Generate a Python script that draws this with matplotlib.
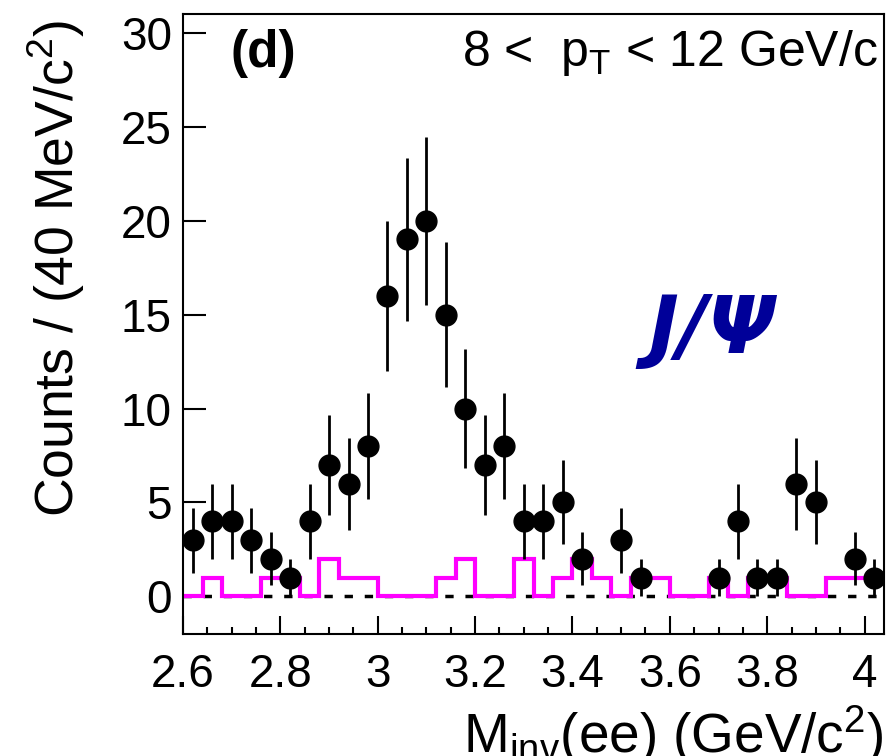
import numpy as np
import matplotlib
matplotlib.use("Agg")
import matplotlib.pyplot as plt
from matplotlib.ticker import MultipleLocator

plt.rcParams['font.family'] = ['Liberation Sans', 'DejaVu Sans']
plt.rcParams['mathtext.fontset'] = 'custom'
plt.rcParams['mathtext.rm'] = 'Liberation Sans'
plt.rcParams['mathtext.it'] = 'Liberation Sans:italic'
plt.rcParams['mathtext.bf'] = 'Liberation Sans:bold'

# 40 MeV bins from 2.60 to 4.04 GeV/c^2
bin_edges = np.round(np.arange(2.60, 4.04 + 0.001, 0.04), 2)
bin_centers = (bin_edges[:-1] + bin_edges[1:]) / 2

# unlike-sign counts (points)
counts = [3, 4, 4, 3, 2, 1, 4, 7, 6, 8, 16, 19, 20, 15, 10, 7, 8, 4,
          4, 5, 2, 0, 3, 1, 0, 0, 0, 1, 4, 1, 1, 6, 5, 0, 2, 1]
# like-sign background (magenta histogram)
background = [0, 1, 0, 0, 1, 1, 0, 2, 1, 1, 0, 0, 0, 1, 2, 0, 0, 2,
              0, 1, 2, 1, 0, 1, 1, 0, 0, 1, 0, 1, 1, 0, 0, 1, 1, 1]

counts = np.array(counts, dtype=float)
errors = np.sqrt(counts)
shown = counts > 0

fig = plt.figure(figsize=(8.89, 7.56), dpi=100)
ax = fig.add_axes([0.2059, 0.1614, 0.7885, 0.8201])

ax.axhline(0, color='black', lw=2.5, linestyle=(0, (2.4, 3.4)), zorder=1)
ax.stairs(background, bin_edges, baseline=None, color='#ff00ff', lw=3, zorder=2)
ax.errorbar(bin_centers[shown], counts[shown], yerr=errors[shown], fmt='o',
            color='black', ms=15, elinewidth=2, capsize=0, zorder=3)

ax.set_xlim(2.60, 4.04)
ax.set_ylim(-2.0, 31.0)

ax.xaxis.set_major_locator(MultipleLocator(0.2))
ax.xaxis.set_minor_locator(MultipleLocator(0.05))
ax.yaxis.set_major_locator(MultipleLocator(5))
ax.xaxis.set_major_formatter(plt.FuncFormatter(lambda v, p: f"{v:g}"))

ax.tick_params(axis='x', which='major', direction='in', length=13, width=1.5,
               labelsize=33, pad=14, top=False)
ax.tick_params(axis='x', which='minor', direction='in', length=5, width=1.5, top=False)
ax.tick_params(axis='y', which='major', direction='in', length=16.5, width=1.5,
               labelsize=33, pad=8, right=False)
for s in ax.spines.values():
    s.set_linewidth(1.5)

ax.set_xlabel(r"M$_{\mathrm{inv}}$(ee) (GeV/c$^{2}$)", fontsize=39.5, ha='right', va='top')
ax.xaxis.set_label_coords(1.0, -0.112)
fig.text(56 / 889, 1 - 20 / 756, r"Counts / (40 MeV/c$^{2}$)", fontsize=38.5,
         rotation=90, ha='center', va='top')

ax.text(0.067, 0.915, "(d)", transform=ax.transAxes, fontsize=37,
        fontweight='bold', va='baseline')
ax.text(0.991, 0.916, r"8 <  $\mathrm{p}_{\mathrm{T}}$ < 12 GeV/c", transform=ax.transAxes,
        fontsize=36, ha='right', va='baseline')
ax.text(0.664, 0.453, "J/Ψ", transform=ax.transAxes, fontsize=58,
        family='DejaVu Sans', fontweight='bold', fontstyle='italic',
        color='#000099', va='baseline')

fig.savefig("out.png", dpi=100)
